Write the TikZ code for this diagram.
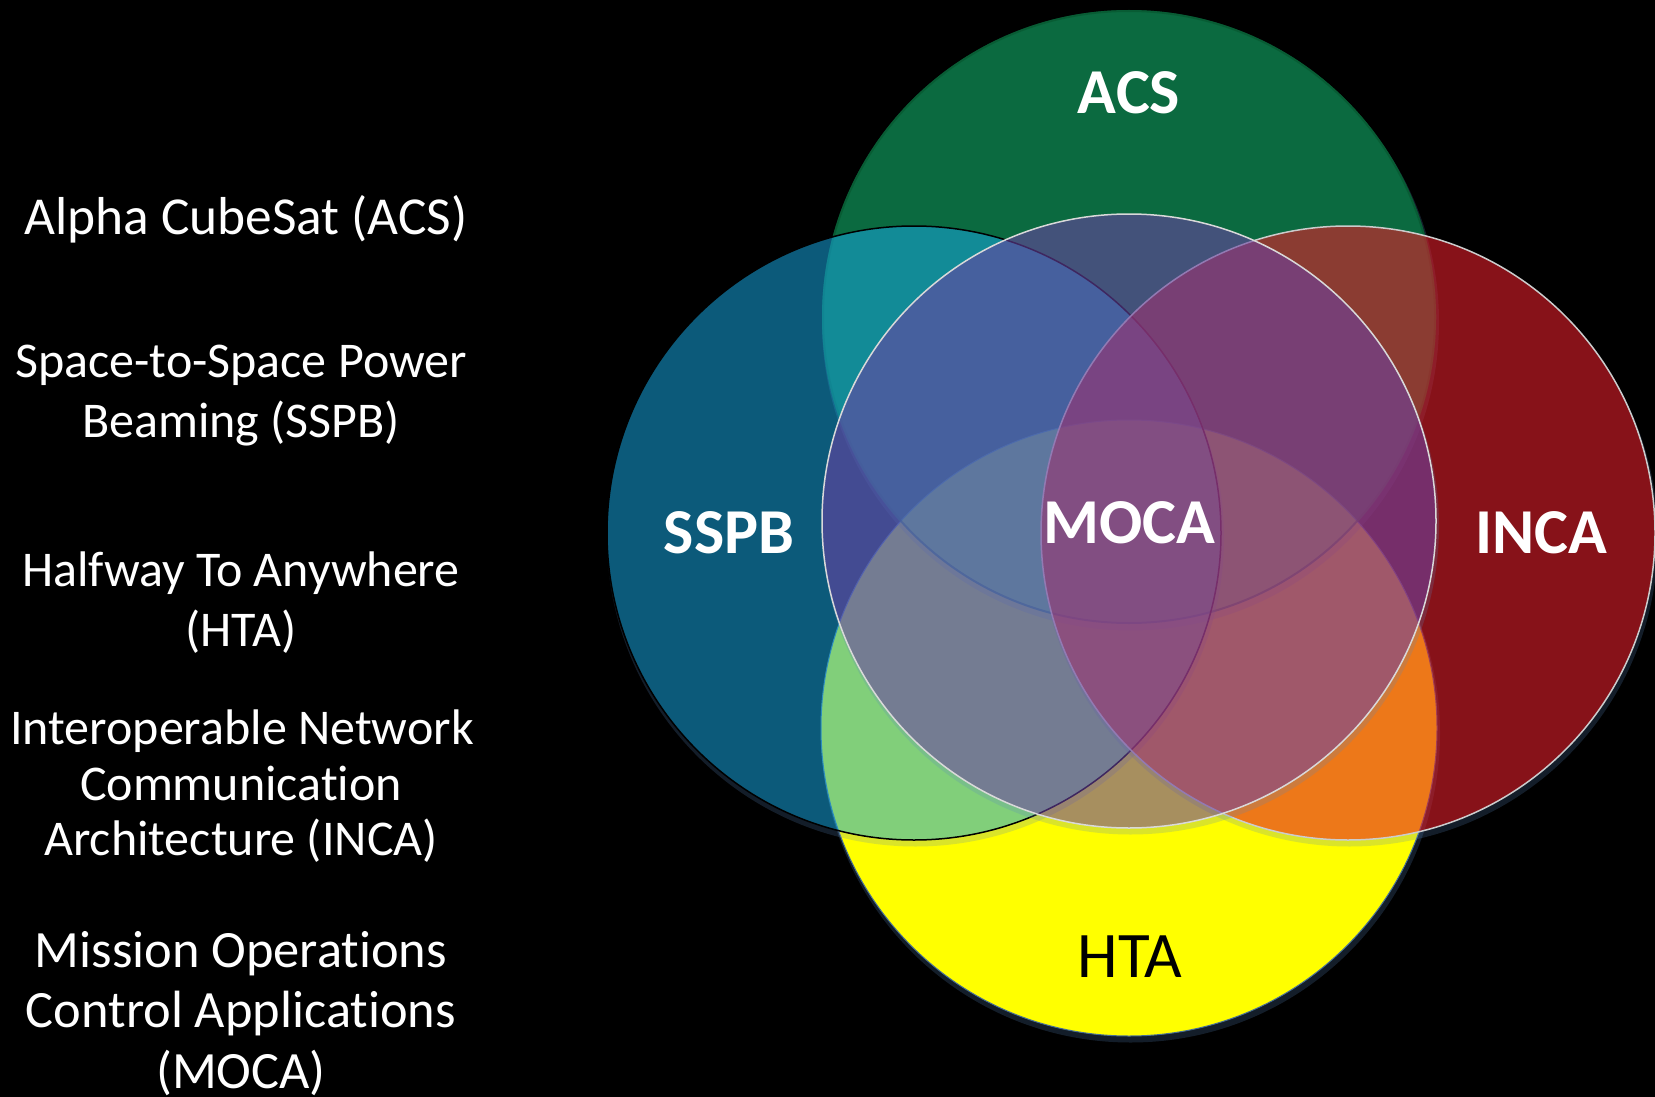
\documentclass[tikz,border=0pt]{standalone}
\usepackage{fontspec}
\setmainfont{Carlito}[Ligatures=NoCommon]
\definecolor{acsC}{RGB}{22,212,128}
\definecolor{acsEdge}{RGB}{6,84,44}
\definecolor{sspbC}{RGB}{24,168,226}
\definecolor{incaC}{RGB}{225,30,42}
\definecolor{mocaC}{RGB}{107,66,163}
\definecolor{htaC}{RGB}{255,255,0}
\definecolor{htaEdge}{RGB}{70,110,150}
\definecolor{shadowC}{RGB}{91,136,191}
\newcommand\vennshadow[2]{%
  \begin{scope}[even odd rule]
    \clip (-20,-20) rectangle (1680,1120) (#1) circle[radius=#2pt];
    \fill[shadowC, fill opacity=0.22] ([shift={(1.5,5)}]#1) circle[radius=#2pt+1.5pt];
  \end{scope}}
\tikzset{
  legend/.style={text=white, anchor=base, inner sep=0pt},
  acstext/.style={legend, font=\fontsize{53.4}{60}\selectfont},
  midtext/.style={legend, font=\fontsize{50}{60}\selectfont},
  mocatext/.style={legend, font=\fontsize{52.4}{60}\selectfont},
  boldlabel/.style={text=white, font=\fontsize{64}{70}\selectfont\bfseries, anchor=base, inner sep=0pt},
  htalabel/.style={text=black, font=\fontsize{65}{70}\selectfont, anchor=base, inner sep=0pt},
}
\begin{document}
\begin{tikzpicture}[x=1pt,y=-1pt]
\useasboundingbox (0,0) rectangle (1655,1097);
\fill[black] (0,0) rectangle (1655,1097);

\coordinate (cACS) at (1129,317);
\coordinate (cSSPB) at (914,533);
\coordinate (cINCA) at (1348,533);
\coordinate (cHTA) at (1129,728);
\coordinate (cMOCA) at (1129,521);

% HTA (opaque, bottom)
\vennshadow{cHTA}{308}
\fill[htaC] (cHTA) circle[radius=308pt];
\draw[htaEdge, line width=1pt] (cHTA) circle[radius=308pt];

% ACS
\vennshadow{cACS}{307}
\fill[acsC, fill opacity=0.5] (cACS) circle[radius=307pt];
\draw[acsEdge, draw opacity=0.6, line width=2pt] (cACS) circle[radius=306pt];

% SSPB
\vennshadow{cSSPB}{307}
\fill[sspbC, fill opacity=0.54] (cSSPB) circle[radius=307pt];
\draw[black, line width=1.5pt] (cSSPB) circle[radius=307pt];

% INCA
\vennshadow{cINCA}{307}
\fill[incaC, fill opacity=0.6] (cINCA) circle[radius=307pt];
\draw[white!80!black, line width=1.5pt] (cINCA) circle[radius=307pt];

% MOCA
\vennshadow{cMOCA}{307}
\fill[mocaC, fill opacity=0.59] (cMOCA) circle[radius=307pt];
\draw[white!85!black, line width=1.5pt] (cMOCA) circle[radius=307pt];

% circle labels
\node[boldlabel] (lACS) at (1129,114) {ACS};
\node[boldlabel] (lSSPB) at (729,553) {SSPB};
\node[boldlabel] (lMOCA) at (1129,543) {MOCA};
\node[boldlabel] (lINCA) at (1541,553) {INCA};
\node[htalabel] (lHTA) at (1130,977) {HTA};

% left legend
\node[acstext] (tACS) at (246,234) {Alpha CubeSat (ACS)};
\node[midtext] (tSSPBa) at (241,377) {Space-to-Space Power};
\node[midtext] (tSSPBb) at (241,437) {Beaming (SSPB)};
\node[midtext] (tHTAa) at (241,586) {Halfway To Anywhere};
\node[midtext] (tHTAb) at (241,646) {(HTA)};
\node[midtext] (tINCAa) at (242,744) {Interoperable Network};
\node[midtext] (tINCAb) at (241,800) {Communication};
\node[midtext] (tINCAc) at (241,855) {Architecture (INCA)};
\node[mocatext] (tMOCAa) at (241,967) {Mission Operations};
\node[mocatext] (tMOCAb) at (241,1027) {Control Applications};
\node[mocatext] (tMOCAc) at (241,1088) {(MOCA)};
\end{tikzpicture}
\end{document}
